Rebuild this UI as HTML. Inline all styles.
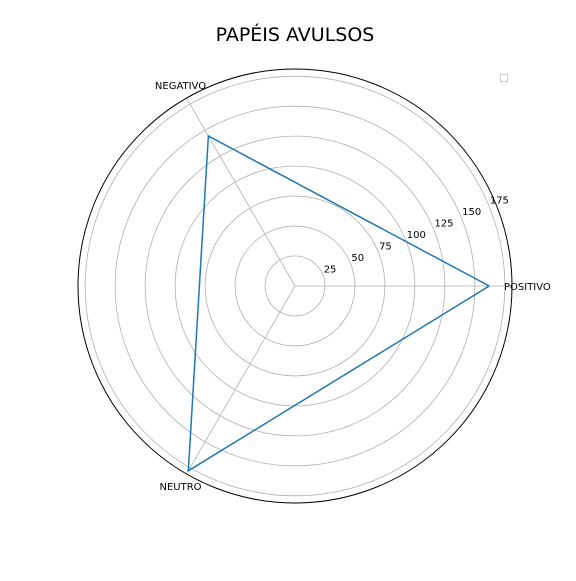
<!DOCTYPE html>
<html><head><meta charset="utf-8"><style>
body{margin:0;background:#fff;}
svg text{font-family:"DejaVu Sans","Liberation Sans",sans-serif;}
</style></head><body>
<svg id="chart" width="576" height="576" viewBox="0 0 576 576">
<text x="295" y="41" font-size="19" text-anchor="middle">PAPÉIS AVULSOS</text>
<rect x="500.5" y="74.5" width="7" height="7" fill="#fff" stroke="#ccc"/>
<g id="grid"></g>
<g id="marks"></g>
</svg>
<script>
const categories=["POSITIVO","NEGATIVO","NEUTRO"];
const values=[162,144.5,178];
const ticks=[25,50,75,100,125,150,175];
const cx=295,cy=286,R=217,rmax=181;
const ns="http://www.w3.org/2000/svg";
function rs(v){return v/rmax*R;}
function pt(i,v){const a=i*2*Math.PI/categories.length;return [cx+rs(v)*Math.cos(a),cy-rs(v)*Math.sin(a)];}
function mk(t,at,p){const e=document.createElementNS(ns,t);for(const k in at)e.setAttribute(k,at[k]);p.appendChild(e);return e;}
const g=document.getElementById('grid'),m=document.getElementById('marks');
ticks.forEach(t=>{
 const c=mk('circle',{cx:cx,cy:cy,r:rs(t),fill:'none',stroke:'#b0b0b0','stroke-width':0.8},g);
 
 
 const a=22.5*Math.PI/180;
 const tx=mk('text',{x:cx+rs(t)*Math.cos(a)+1,y:cy-rs(t)*Math.sin(a)-2,'font-size':10},g);
 tx.textContent=t;
 
 
});
const offs=[[-8,4,'start'],[-6,-9,'middle'],[-6,16,'middle']];
categories.forEach((c,i)=>{
 const [x,y]=pt(i,rmax);
 const l=mk('line',{x1:cx,y1:cy,x2:x,y2:y,stroke:'#b0b0b0','stroke-width':0.8},g);
 
 
 const tx=mk('text',{x:x+offs[i][0],y:y+offs[i][1],'font-size':10,'text-anchor':offs[i][2]},g);
 tx.textContent=c;
 
 
});
const o=mk('circle',{cx:cx,cy:cy,r:R,fill:'none',stroke:'#000','stroke-width':1},g);


const pts=values.map((v,i)=>pt(i,v));pts.push(pts[0]);
const pl=mk('polyline',{points:pts.map(p=>p.join(',')).join(' '),fill:'none',stroke:'#1f77b4','stroke-width':1.5},m);


</script>
</body></html>
